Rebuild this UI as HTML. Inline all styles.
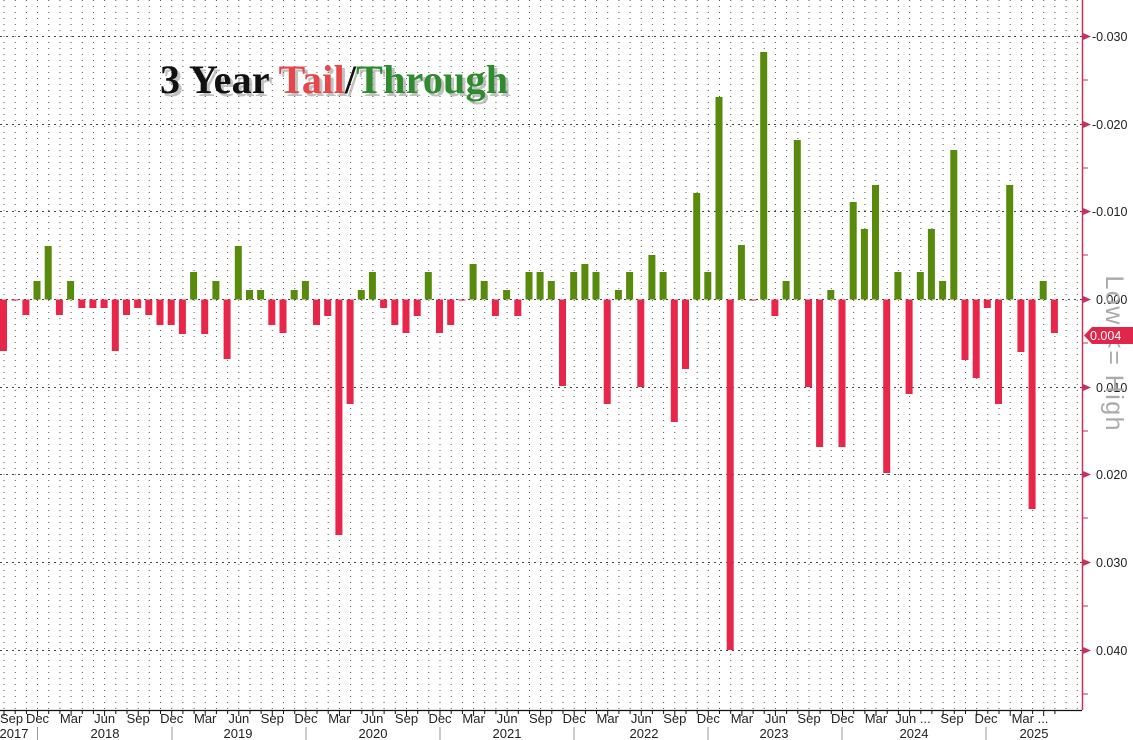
<!DOCTYPE html>
<html><head><meta charset="utf-8"><style>
html,body{margin:0;padding:0;background:#fff;}
svg{display:block;}
</style></head><body>
<svg width="1133" height="740" viewBox="0 0 1133 740" xmlns="http://www.w3.org/2000/svg" font-family="'Liberation Sans', sans-serif">
<rect width="1133" height="740" fill="#fff"/>
<g id="vgrid" stroke="#555" stroke-width="1" stroke-dasharray="1,5"></g>
<g stroke="#444" stroke-width="1" stroke-dasharray="2,4">
<line x1="0" y1="36.5" x2="1082" y2="36.5"/>
<line x1="0" y1="124.5" x2="1082" y2="124.5"/>
<line x1="0" y1="211.5" x2="1082" y2="211.5"/>
<line x1="0" y1="299.5" x2="1082" y2="299.5"/>
<line x1="0" y1="387.5" x2="1082" y2="387.5"/>
<line x1="0" y1="474.5" x2="1082" y2="474.5"/>
<line x1="0" y1="562.5" x2="1082" y2="562.5"/>
<line x1="0" y1="650.5" x2="1082" y2="650.5"/>
</g>
<g id="bars"></g>
<text x="160" y="93" font-family="'Liberation Serif', serif" font-weight="bold" font-size="40" fill="#999" opacity="0.6" transform="translate(3,3)" textLength="348">3 Year Tail/Through</text>
<text x="160" y="93" font-family="'Liberation Serif', serif" font-weight="bold" font-size="40" textLength="348"><tspan fill="#111">3 Year </tspan><tspan fill="#e8474a">Tail</tspan><tspan fill="#111">/</tspan><tspan fill="#2e8b2e">Through</tspan></text>
<line x1="0" y1="710.5" x2="1082" y2="710.5" stroke="#111" stroke-width="1.2"/>
<g id="xticks" stroke="#111" stroke-width="1"></g>
<g id="xlabels" font-size="13" fill="#222" text-anchor="middle"></g>
<line x1="1082.5" y1="0" x2="1082.5" y2="710" stroke="#c8325a" stroke-width="1.5"/>
<g fill="#c8325a">
<polygon points="1083,33 1091,36.5 1083,40"/>
<polygon points="1083,121 1091,124.5 1083,128"/>
<polygon points="1083,208 1091,211.5 1083,215"/>
<polygon points="1083,296 1091,299.5 1083,303"/>
<polygon points="1083,384 1091,387.5 1083,391"/>
<polygon points="1083,471 1091,474.5 1083,478"/>
<polygon points="1083,559 1091,562.5 1083,566"/>
<polygon points="1083,647 1091,650.5 1083,654"/>
</g>
<g stroke="#c8325a" stroke-width="1">
<line x1="1083" y1="80" x2="1088" y2="80"/><line x1="1083" y1="168" x2="1088" y2="168"/>
<line x1="1083" y1="255" x2="1088" y2="255"/><line x1="1083" y1="343" x2="1088" y2="343"/>
<line x1="1083" y1="431" x2="1088" y2="431"/><line x1="1083" y1="518" x2="1088" y2="518"/>
<line x1="1083" y1="606" x2="1088" y2="606"/><line x1="1083" y1="694" x2="1088" y2="694"/>
</g>
<g font-size="12.5" fill="#222">
<text x="1092" y="41">-0.030</text>
<text x="1092" y="129">-0.020</text>
<text x="1092" y="216">-0.010</text>
<text x="1096" y="304">0.000</text>
<text x="1096" y="392">0.010</text>
<text x="1096" y="479">0.020</text>
<text x="1096" y="567">0.030</text>
<text x="1096" y="655">0.040</text>
</g>
<text transform="translate(1106,353) rotate(90)" text-anchor="middle" font-size="25" fill="#aaa" textLength="155">Low &lt;= High</text>
<polygon points="1084,335.5 1092,327 1133,327 1133,344 1092,344" fill="#e0264a"/>
<text x="1090" y="340" font-size="12.5" fill="#fff">0.004</text>
</svg>
<script>
var ends=[351,300,315,281,246,315,281,308,308,308,351,315,308,315,325,325,334,272,334,281,359,246,290,290,325,333,290,281,325,316,535,404,290,272,308,325,333,316,272,333,325,300,264,281,316,290,316,272,272,281,386,272,264,272,404,290,272,387,255,272,422,369,193,272,97,650,245,300,52,316,281,140,387,447,290,447,202,229,185,473,272,394,272,229,281,150,360,378,308,404,185,352,509,281,333];
var NS="http://www.w3.org/2000/svg";
function el(t,a,p){var e=document.createElementNS(NS,t);for(var k in a)e.setAttribute(k,a[k]);p.appendChild(e);return e;}
var bars=document.getElementById('bars'),vg=document.getElementById('vgrid'),xt=document.getElementById('xticks'),xl=document.getElementById('xlabels');
var Z=299.5;
for(var i=0;i<ends.length;i++){
  var x=i*11.18;
  el('line',{x1:(x+4).toFixed(1),y1:0,x2:(x+4).toFixed(1),y2:710},vg);
  var y=ends[i];
  if(y<Z){el('rect',{x:x.toFixed(1),y:y,width:7,height:(Z-y).toFixed(1),fill:'#588a0c'},bars);}
  else{el('rect',{x:x.toFixed(1),y:Z,width:7,height:Math.max(1,y-Z).toFixed(1),fill:'#e8264a'},bars);}
  el('line',{x1:(x+4).toFixed(1),y1:711,x2:(x+4).toFixed(1),y2:(i%3==0?716:714)},xt);
}
for(var i=95;i<97;i++){var x=i*11.18;el('line',{x1:(x+4).toFixed(1),y1:0,x2:(x+4).toFixed(1),y2:710},vg);}
var mn=['Sep','Dec','Mar','Jun'];
var labs=[];
for(var k=0;k<27;k++){labs.push([k*3*11.18+4,mn[k%4]]);}
labs.push([905,'Jun ...'],[952,'Sep'],[986,'Dec'],[1022,'Mar ...']);
labs.forEach(function(l,idx){var t=el('text',{x:l[0].toFixed(1),y:723},xl);t.textContent=l[1];if(idx==0){t.setAttribute('x','0');t.setAttribute('text-anchor','start');}if(l[1].indexOf('...')>0)t.setAttribute('x',(l[0]+8).toFixed(1));});
var years=[[14,'2017'],[105,'2018'],[238,'2019'],[373,'2020'],[507,'2021'],[644,'2022'],[774,'2023'],[914,'2024'],[1034,'2025']];
years.forEach(function(l){var t=el('text',{x:l[0],y:738},xl);t.textContent=l[1];});
[37.5,172,306,440,574,708,842,986].forEach(function(x){el('line',{x1:x,y1:727,x2:x,y2:740,stroke:'#999','stroke-width':1},xt);});
</script>
</body></html>
